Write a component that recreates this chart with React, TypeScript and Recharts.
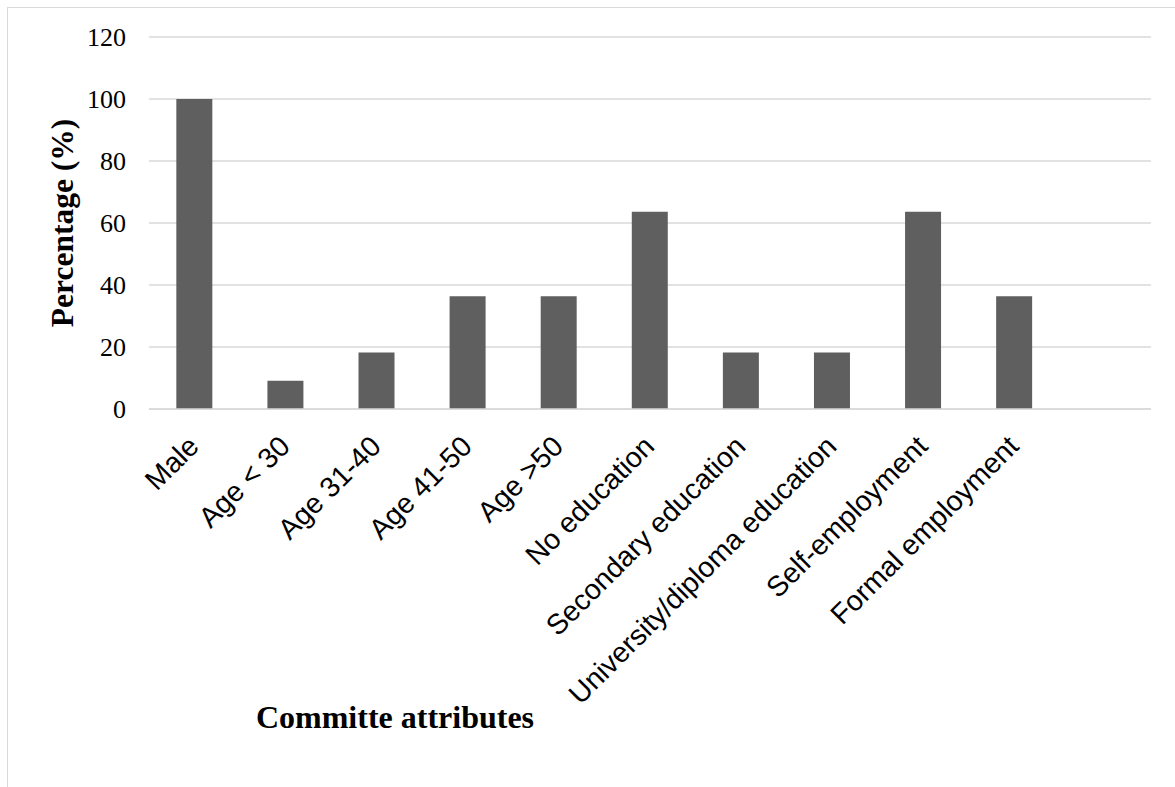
import React from 'react';
import { BarChart, Bar, XAxis, YAxis, CartesianGrid } from 'recharts';

const categories = [
  'Male',
  'Age < 30',
  'Age 31-40',
  'Age 41-50',
  'Age >50',
  'No education',
  'Secondary education',
  'University/diploma education',
  'Self-employment',
  'Formal employment',
  '',
];

const percentages = [100, 9.1, 18.2, 36.4, 36.4, 63.6, 18.2, 18.2, 63.6, 36.4, null];

const yTicks = [0, 20, 40, 60, 80, 100, 120];

const serif = "'Liberation Serif', 'Times New Roman', serif";
const sans = "'Liberation Sans', Arial, sans-serif";

const data = categories.map((name, i) => ({ name, value: percentages[i] }));

const XTick = (props: any) => {
  const { x, y, payload } = props;
  if (!payload.value) return null;
  return (
    <g transform={`translate(${x + 6},${y + 39})`}>
      <text textAnchor="end" transform="rotate(-45)" fontFamily={sans} fontSize={28.5} fill="#000">
        {payload.value}
      </text>
    </g>
  );
};

const YTitle = (props: any) => {
  const vb = props.viewBox || { x: 0, y: 0, width: 0, height: 0 };
  const cx = vb.x + 62;
  const cy = vb.y + vb.height / 2;
  return (
    <text
      x={cx}
      y={cy}
      transform={`rotate(-90, ${cx}, ${cy})`}
      textAnchor="middle"
      dominantBaseline="central"
      fontFamily={serif}
      fontWeight="bold"
      fontSize={31.5}
      fill="#000"
    >
      Percentage (%)
    </text>
  );
};

const XTitle = (props: any) => {
  const vb = props.viewBox || { x: 0, y: 0, width: 0, height: 0 };
  return (
    <text
      x={vb.x + 246}
      y={vb.y + 319}
      textAnchor="middle"
      fontFamily={serif}
      fontWeight="bold"
      fontSize={32}
      fill="#000"
    >
      Committe attributes
    </text>
  );
};

export default function App() {
  return (
    <div
      style={{
        position: 'absolute',
        left: 0,
        top: 0,
        width: 1175,
        height: 787,
        overflow: 'hidden',
        background: '#fff',
      }}
    >
      <div
        style={{
          position: 'absolute',
          left: 7,
          top: 7,
          width: 1200,
          height: 820,
          border: '1px solid #d9d9d9',
        }}
      />
      <div style={{ position: 'absolute', left: 0, top: 0 }}>
        <BarChart
          width={1175}
          height={787}
          data={data}
          margin={{ top: 37, right: 24, bottom: 0, left: 0 }}
          barCategoryGap="30%"
        >
          <CartesianGrid vertical={false} stroke="#d9d9d9" strokeWidth={1.5} />
          <XAxis
            dataKey="name"
            height={378}
            interval={0}
            tickLine={false}
            tickSize={0}
            tickMargin={0}
            axisLine={{ stroke: '#d9d9d9', strokeWidth: 1.5 }}
            tick={<XTick />}
            label={<XTitle />}
          />
          <YAxis
            width={149}
            domain={[0, 120]}
            ticks={yTicks}
            interval={0}
            tickLine={false}
            axisLine={false}
            tickSize={0}
            tickMargin={23}
            tick={{ fontFamily: serif, fontSize: 26, fill: '#000' }}
            label={<YTitle />}
          />
          <Bar dataKey="value" fill="#5f5f5f" isAnimationActive={false} />
        </BarChart>
      </div>
    </div>
  );
}
